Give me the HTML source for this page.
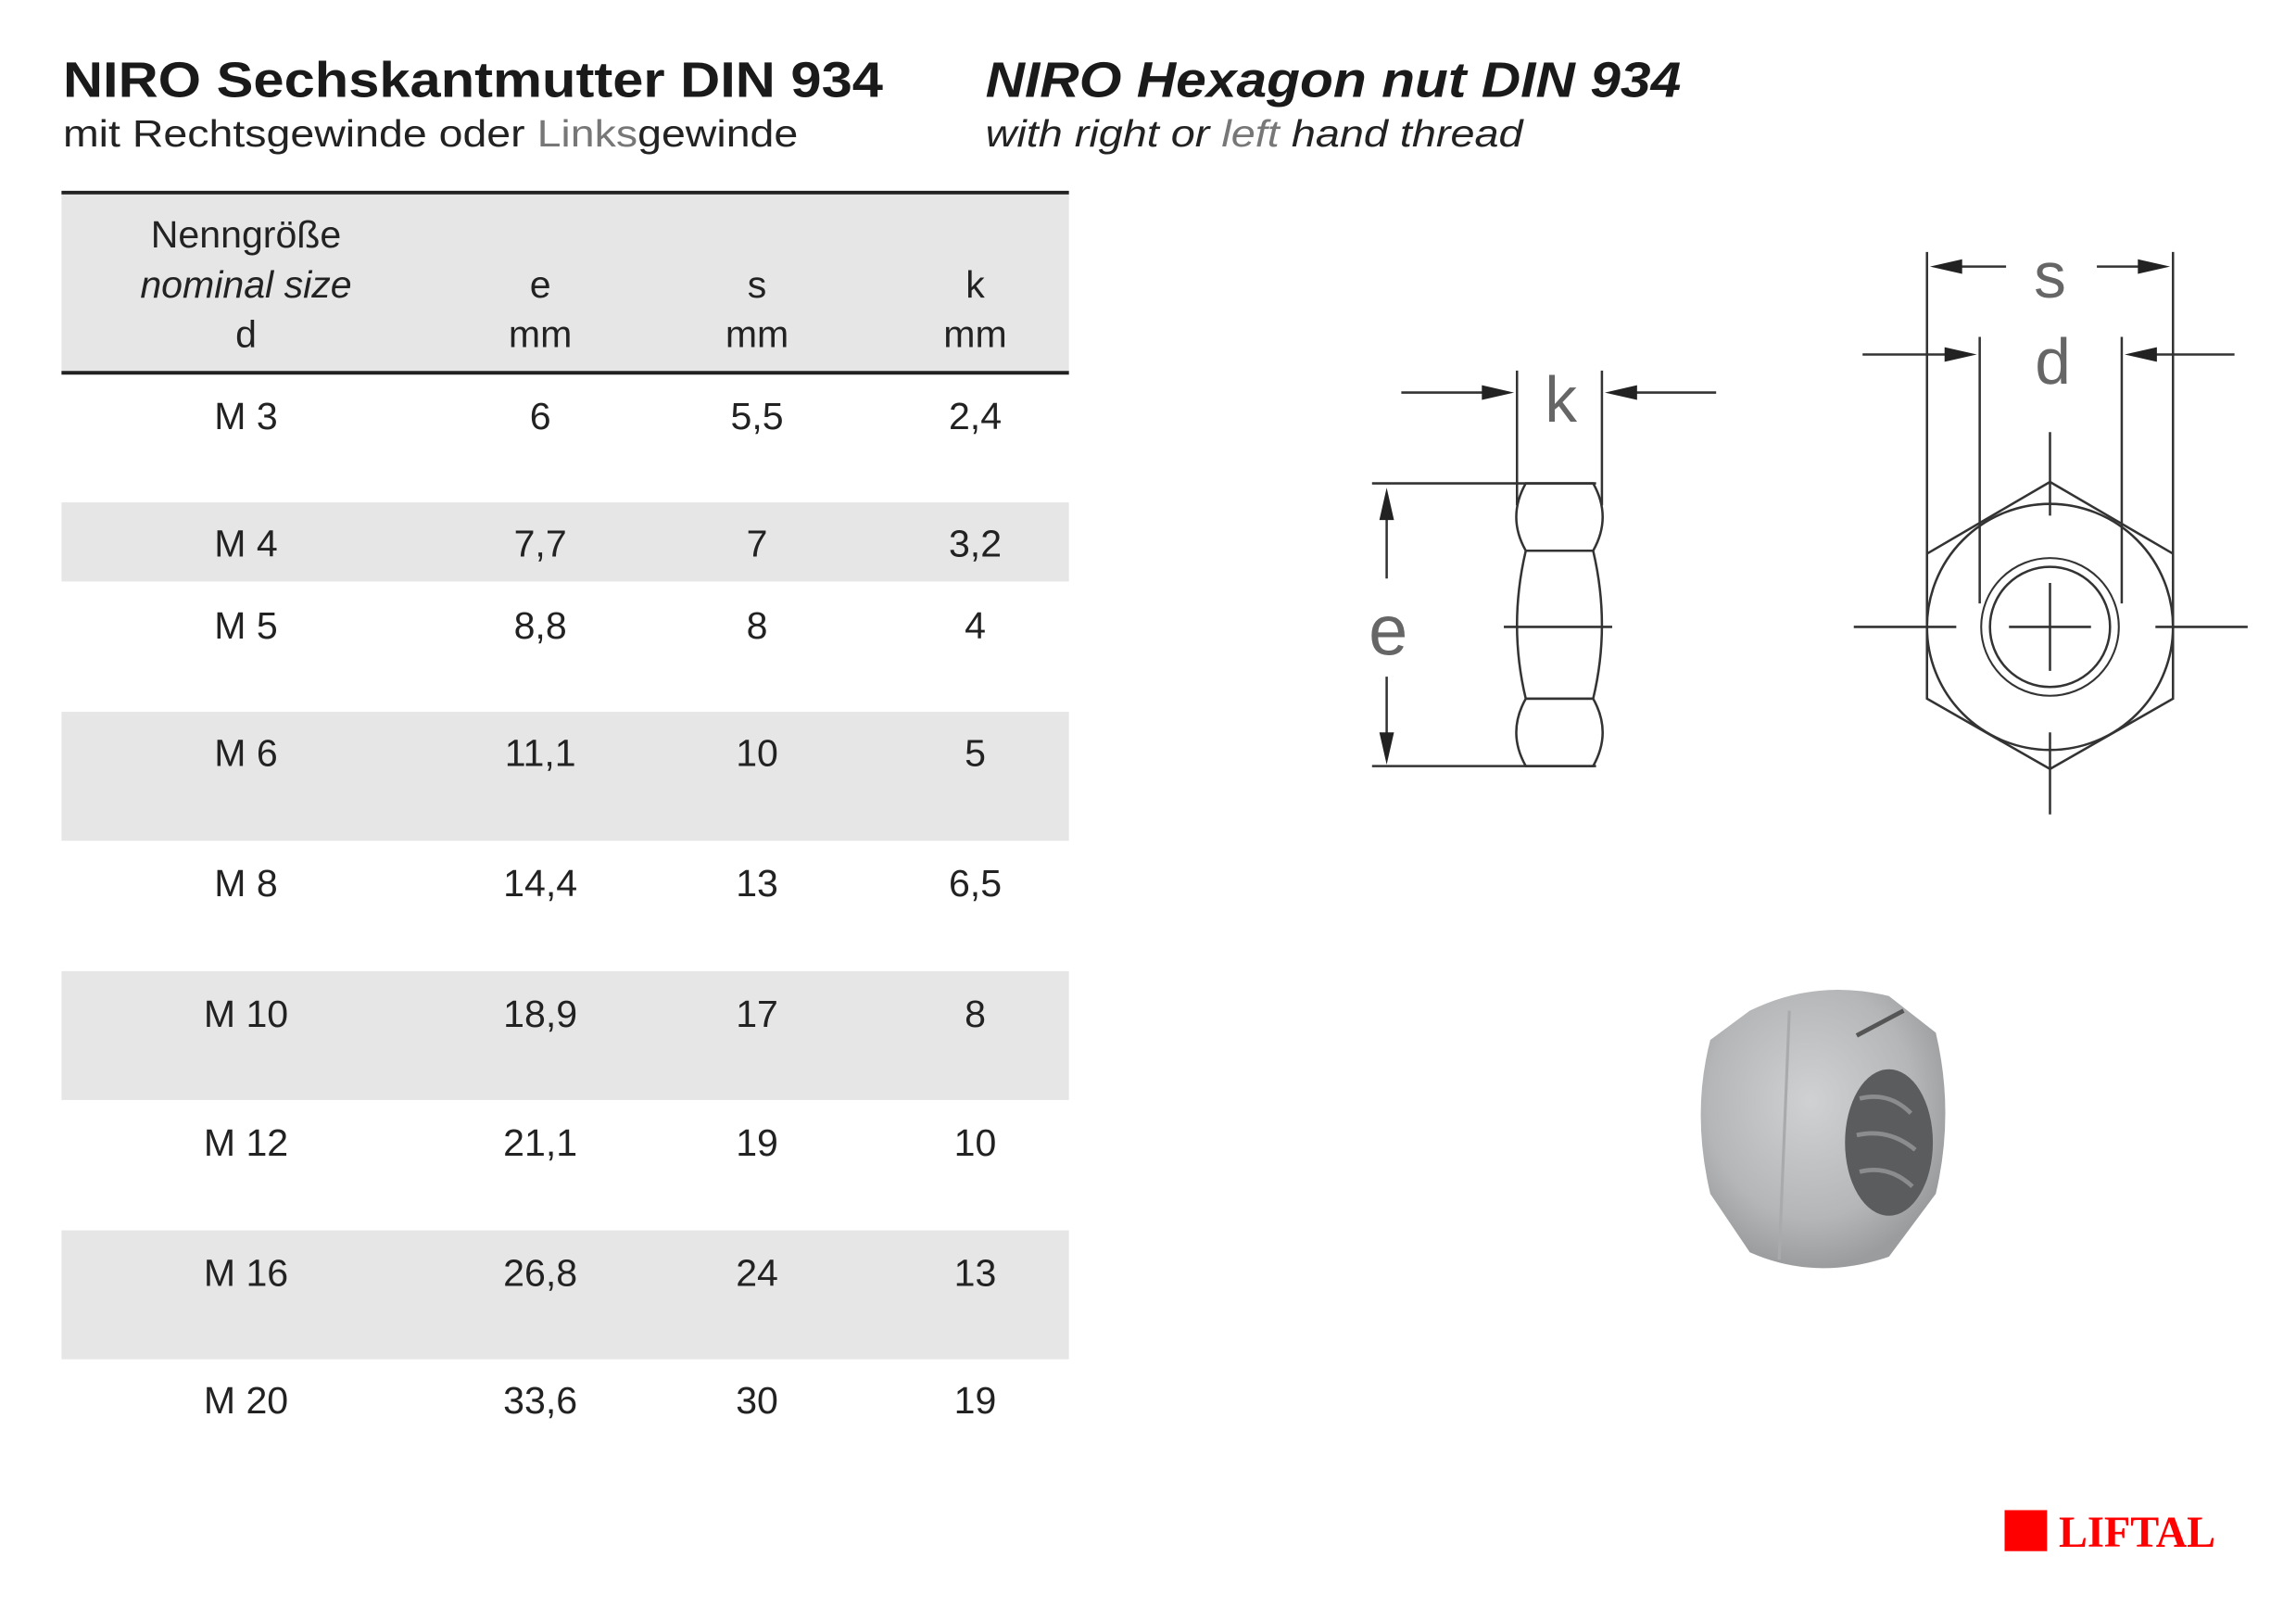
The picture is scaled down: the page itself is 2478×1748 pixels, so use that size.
<!DOCTYPE html>
<html><head><meta charset="utf-8"><style>
html,body{margin:0;padding:0;background:#fff;}
svg{display:block;}
</style></head><body>
<svg width="2478" height="1748" viewBox="0 0 1568 1106" preserveAspectRatio="none" xmlns="http://www.w3.org/2000/svg" font-family="Liberation Sans, Arial, sans-serif">
<rect width="1568" height="1106" fill="#fff"/>
<!-- titles -->
<text x="43" y="66" font-size="34" font-weight="bold" fill="#1a1a1a" textLength="560" lengthAdjust="spacingAndGlyphs">NIRO Sechskantmutter DIN 934</text>
<text x="43" y="100" font-size="26" fill="#222" textLength="502" lengthAdjust="spacingAndGlyphs">mit Rechtsgewinde oder <tspan fill="#777">Links</tspan>gewinde</text>
<text x="673" y="66" font-size="34" font-weight="bold" font-style="italic" fill="#1a1a1a" textLength="475" lengthAdjust="spacingAndGlyphs">NIRO Hexagon nut DIN 934</text>
<text x="673" y="100" font-size="26" font-style="italic" fill="#222" textLength="367" lengthAdjust="spacingAndGlyphs">with right or <tspan fill="#777">left</tspan> hand thread</text>
<!-- table -->
<rect x="42" y="132" width="688" height="122" fill="#e6e6e6"/>
<rect x="42" y="343" width="688" height="54" fill="#e6e6e6"/>
<rect x="42" y="486" width="688" height="88" fill="#e6e6e6"/>
<rect x="42" y="663" width="688" height="88" fill="#e6e6e6"/>
<rect x="42" y="840" width="688" height="88" fill="#e6e6e6"/>
<line x1="42" y1="131.5" x2="730" y2="131.5" stroke="#222" stroke-width="2.5"/>
<line x1="42" y1="254.5" x2="730" y2="254.5" stroke="#222" stroke-width="2.5"/>
<g font-size="26" fill="#222" text-anchor="middle">
<text x="168" y="169">Nenngröße</text>
<text x="168" y="203" font-style="italic">nominal size</text>
<text x="168" y="237">d</text>
<text x="369" y="203">e</text><text x="369" y="237">mm</text>
<text x="517" y="203">s</text><text x="517" y="237">mm</text>
<text x="666" y="203">k</text><text x="666" y="237">mm</text>
<g>
<text x="168" y="293">M 3</text><text x="369" y="293">6</text><text x="517" y="293">5,5</text><text x="666" y="293">2,4</text>
<text x="168" y="380">M 4</text><text x="369" y="380">7,7</text><text x="517" y="380">7</text><text x="666" y="380">3,2</text>
<text x="168" y="436">M 5</text><text x="369" y="436">8,8</text><text x="517" y="436">8</text><text x="666" y="436">4</text>
<text x="168" y="523">M 6</text><text x="369" y="523">11,1</text><text x="517" y="523">10</text><text x="666" y="523">5</text>
<text x="168" y="612">M 8</text><text x="369" y="612">14,4</text><text x="517" y="612">13</text><text x="666" y="612">6,5</text>
<text x="168" y="701">M 10</text><text x="369" y="701">18,9</text><text x="517" y="701">17</text><text x="666" y="701">8</text>
<text x="168" y="789">M 12</text><text x="369" y="789">21,1</text><text x="517" y="789">19</text><text x="666" y="789">10</text>
<text x="168" y="878">M 16</text><text x="369" y="878">26,8</text><text x="517" y="878">24</text><text x="666" y="878">13</text>
<text x="168" y="965">M 20</text><text x="369" y="965">33,6</text><text x="517" y="965">30</text><text x="666" y="965">19</text>
</g>
</g>
<!-- side view drawing -->
<g stroke="#333" stroke-width="1.6" fill="none">
<line x1="957" y1="268" x2="1020" y2="268"/>
<line x1="1172" y1="268" x2="1110" y2="268"/>
<line x1="1036" y1="253" x2="1036" y2="345"/>
<line x1="1094" y1="253" x2="1094" y2="345"/>
<line x1="937" y1="330" x2="1090" y2="330"/>
<line x1="937" y1="523" x2="1090" y2="523"/>
<line x1="947" y1="345" x2="947" y2="395"/>
<line x1="947" y1="462" x2="947" y2="510"/>
<path d="M1042,330 L1088,330 Q1101,353 1088,376 L1042,376 Q1029,353 1042,330 Z"/>
<path d="M1042,376 Q1030,427 1042,477 L1088,477 Q1100,427 1088,376"/>
<path d="M1042,477 L1088,477 Q1101,500 1088,523 L1042,523 Q1029,500 1042,477 Z"/>
<line x1="1027" y1="428" x2="1101" y2="428"/>
</g>
<g fill="#222">
<polygon points="1034,268 1012,263 1012,273"/>
<polygon points="1096,268 1118,263 1118,273"/>
<polygon points="947,333 942,355 952,355"/>
<polygon points="947,522 942,500 952,500"/>
</g>
<g font-size="44" fill="#666" text-anchor="middle">
<text x="1066" y="288">k</text>
<text x="948" y="447" font-size="48">e</text>
<text x="1400" y="203">s</text>
<text x="1402" y="262">d</text>
</g>
<!-- front view -->
<g stroke="#333" stroke-width="1.6" fill="none">
<line x1="1316" y1="172" x2="1316" y2="477"/>
<line x1="1484" y1="172" x2="1484" y2="477"/>
<line x1="1330" y1="182" x2="1370" y2="182"/>
<line x1="1432" y1="182" x2="1472" y2="182"/>
<line x1="1352" y1="230" x2="1352" y2="412"/>
<line x1="1449" y1="230" x2="1449" y2="412"/>
<line x1="1272" y1="242" x2="1335" y2="242"/>
<line x1="1526" y1="242" x2="1466" y2="242"/>
<polygon points="1400,329 1484,378 1484,477 1400,525 1316,477 1316,378"/>
<circle cx="1400" cy="428" r="84"/>
<circle cx="1400" cy="428" r="47" stroke-width="1.3"/>
<circle cx="1400" cy="428" r="41"/>
<line x1="1400" y1="295" x2="1400" y2="352"/>
<line x1="1400" y1="398" x2="1400" y2="458"/>
<line x1="1400" y1="500" x2="1400" y2="556"/>
<line x1="1266" y1="428" x2="1336" y2="428"/>
<line x1="1372" y1="428" x2="1428" y2="428"/>
<line x1="1472" y1="428" x2="1535" y2="428"/>
</g>
<g fill="#222">
<polygon points="1318,182 1340,177 1340,187"/>
<polygon points="1482,182 1460,177 1460,187"/>
<polygon points="1350,242 1328,237 1328,247"/>
<polygon points="1451,242 1473,237 1473,247"/>
</g>
<!-- nut photo -->
<defs>
<radialGradient id="ng" cx="0.45" cy="0.4" r="0.6">
<stop offset="0" stop-color="#cfd1d3"/><stop offset="0.7" stop-color="#b4b6b8"/><stop offset="1" stop-color="#9a9c9e"/>
</radialGradient>
</defs>
<path d="M1195,690 Q1240,668 1290,680 L1322,705 Q1335,760 1322,815 L1290,858 Q1240,875 1195,855 L1168,815 Q1155,760 1168,710 Z" fill="url(#ng)"/>
<path d="M1222,690 L1215,860" stroke="#a8aaac" stroke-width="2" fill="none"/>
<ellipse cx="1290" cy="780" rx="30" ry="50" fill="#5a5c5e"/>
<path d="M1270,750 Q1290,745 1305,760 M1268,775 Q1290,770 1308,785 M1270,800 Q1290,795 1306,810" stroke="#8a8c8e" stroke-width="3" fill="none"/>
<line x1="1268" y1="707" x2="1300" y2="690" stroke="#555" stroke-width="3"/>
<!-- logo -->
<rect x="1369" y="1031" width="29" height="28" fill="#f00"/>
<text x="1406" y="1056" font-family="Liberation Serif, serif" font-size="30" font-weight="bold" fill="#f00" textLength="107" lengthAdjust="spacingAndGlyphs">LIFTAL</text>
</svg>
</body></html>
